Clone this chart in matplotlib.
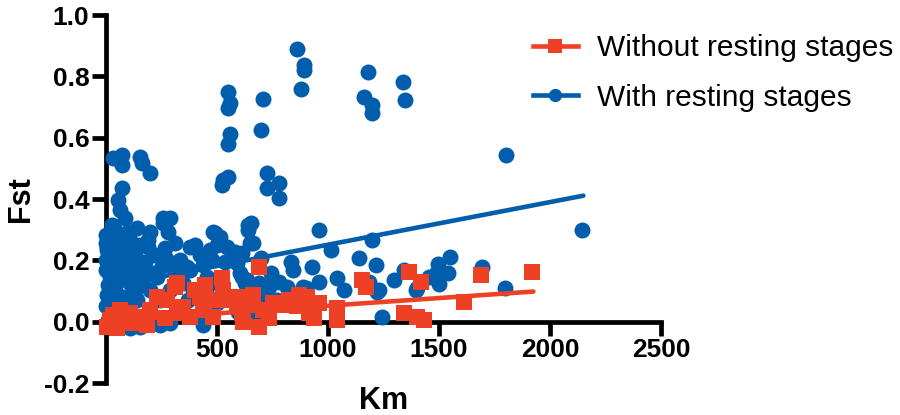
import numpy as np
import matplotlib
matplotlib.use("Agg")
import matplotlib.pyplot as plt

# Daten: (Km, Fst)
with_rs = np.array([
    # Ausreisser oben
    (862, 0.889), (894, 0.837), (894, 0.821), (876, 0.759), (548, 0.749),
    (557, 0.713), (548, 0.697), (705, 0.726), (696, 0.625), (557, 0.612),
    (548, 0.580), (1181, 0.814), (1163, 0.733), (1199, 0.707), (1199, 0.681),
    (1338, 0.782), (1347, 0.723), (1800, 0.544), (2146, 0.300),
    # mittlerer Bereich
    (31, 0.534), (72, 0.544), (72, 0.511), (153, 0.537), (162, 0.518),
    (198, 0.485), (525, 0.463), (548, 0.472), (521, 0.446), (727, 0.485),
    (723, 0.436), (781, 0.453), (781, 0.404), (72, 0.436), (54, 0.397),
    (63, 0.365), (85, 0.339), (256, 0.339), (256, 0.322), (139, 0.306),
    (655, 0.322), (638, 0.300), (647, 0.257), (480, 0.293), (512, 0.277),
    (961, 0.300), (1199, 0.267), (27, 0.293), (31, 0.267), (4, 0.244),
    # unterer Bereich
    (40, 0.300), (18, 0.251), (4, 0.234), (189, 0.267), (189, 0.244),
    (265, 0.241), (377, 0.244), (400, 0.251), (498, 0.251), (543, 0.244),
    (579, 0.228), (660, 0.257), (265, 0.212), (301, 0.192), (153, 0.179),
    (94, 0.169), (18, 0.147), (4, 0.088), (166, 0.147), (229, 0.147),
    (364, 0.179), (436, 0.186), (476, 0.202), (588, 0.192), (611, 0.147),
    (346, 0.127), (391, 0.104), (453, 0.114), (121, 0.104), (139, 0.072),
    (76, 0.081), (18, 0.029), (31, 0.062), (153, -0.016), (287, -0.003),
    (436, 0.007), (498, 0.062), (593, 0.033), (678, 0.029), (745, 0.160),
    (840, 0.169), (929, 0.179), (1015, 0.235), (1042, 0.143), (1140, 0.208),
    (1217, 0.186), (1230, 0.104), (1244, 0.016), (961, 0.130), (885, 0.114),
    (813, 0.114), (736, 0.114), (705, 0.081), (768, 0.072), (700, 0.208),
    (835, 0.195), (781, 0.130), (902, 0.111), (633, 0.137), (691, 0.127),
    (611, 0.225), (287, 0.339), (489, 0.290), (638, 0.316), (301, 0.179),
    (593, 0.212), (602, 0.160), (377, 0.169), (332, 0.137), (453, 0.147),
    (624, 0.127), (435, -0.010), (1073, 0.104), (1221, 0.098), (1298, 0.137),
    (1342, 0.169), (1396, 0.104), (1185, 0.130), (1549, 0.212), (1495, 0.189),
    (1491, 0.163), (1540, 0.160), (1455, 0.147), (1500, 0.124), (1401, 0.111),
    (1693, 0.179), (1796, 0.111),
    # dichter Bereich nahe 0 km
    (0, 0.200), (9, 0.185), (27, 0.218), (54, 0.195), (85, 0.234),
    (108, 0.267), (54, 0.251), (9, 0.120), (40, 0.104), (63, 0.137),
    (108, 0.127), (85, 0.055), (9, 0.007), (54, -0.010), (108, -0.020),
    (242, -0.010), (198, 0.104), (242, 0.072), (287, 0.104), (175, 0.195),
    (220, 0.218), (130, 0.218), (153, 0.251), (0, 0.169), (0, 0.283),
    (27, 0.316), (63, 0.277), (99, 0.293), (198, 0.293), (310, 0.257),
    (278, 0.293), (332, 0.202), (422, 0.218), (467, 0.234), (534, 0.195),
    (368, 0.072), (18, 0.072), (40, 0.180), (76, 0.150), (45, 0.225),
    (99, 0.200), (120, 0.160), (130, 0.085), (0, 0.050), (60, 0.040),
    (165, 0.120), (210, 0.160), (250, 0.180), (22, 0.215), (0, 0.255),
])

without_rs = np.array([
    (4, -0.016), (18, 0.007), (49, -0.020), (63, 0.039), (108, 0.029),
    (121, -0.003), (153, 0.016), (184, -0.010), (198, 0.039), (229, 0.081),
    (274, 0.072), (310, 0.114), (319, 0.049), (319, 0.127), (332, 0.029),
    (346, 0.049), (377, 0.016), (422, 0.081), (436, 0.039), (480, 0.016),
    (521, 0.143), (525, 0.104), (566, 0.081), (588, 0.055), (611, 0.029),
    (602, 0.081), (615, 0.000), (660, 0.088), (691, -0.016), (691, 0.179),
    (705, 0.039), (750, 0.062), (790, 0.055), (826, 0.072), (858, 0.052),
    (907, 0.081), (916, 0.029), (961, 0.062), (1042, 0.046), (1042, 0.007),
    (1154, 0.137), (1172, 0.114), (1342, 0.029), (1365, 0.163), (1419, 0.130),
    (1401, 0.016), (1432, 0.007), (1612, 0.065), (1688, 0.153), (1917, 0.163),
    (31, 0.023), (85, 0.000), (265, 0.013), (400, 0.104), (445, 0.120),
    (489, 0.072), (548, 0.072), (647, 0.055), (736, 0.013), (871, 0.088),
    (938, 0.013),
])

# Regressionsgeraden: Achsenabschnitt, Steigung, groesster x-Wert
fit_with = (0.112, 0.000139, 2150)
fit_without = (0.002, 0.00005, 1925)

blue = '#005EAC'
red = '#EE4024'

plt.rcParams['font.family'] = ['Liberation Sans', 'DejaVu Sans']

fig = plt.figure(figsize=(9, 4.15), dpi=100)
ax = fig.add_axes([0.1178, 0.0771, 0.6167, 0.8867])

ax.plot(with_rs[:, 0], with_rs[:, 1], 'o', color=blue, ms=11.5,
        mew=0, clip_on=False, zorder=3)
xf = np.array([0, fit_with[2]])
ax.plot(xf, fit_with[0] + fit_with[1] * xf, color=blue, lw=3.3,
        solid_capstyle='round', zorder=4)

ax.plot(without_rs[:, 0], without_rs[:, 1], 's', color=red, ms=11,
        mew=0, clip_on=False, zorder=5)
xf = np.array([0, fit_without[2]])
ax.plot(xf, fit_without[0] + fit_without[1] * xf, color=red, lw=3.3,
        solid_capstyle='round', zorder=4.5)

# Legenden-Handles (Linie + Marker)
h_red, = ax.plot([], [], color=red, lw=3.3, marker='s', ms=9.5, mew=0,
                 label='Without resting stages')
h_blue, = ax.plot([], [], color=blue, lw=3.3, marker='o', ms=9.5, mew=0,
                  label='With resting stages')

ax.set_xlim(0, 2500)
ax.set_ylim(-0.2, 1.0)
ax.set_xticks([500, 1000, 1500, 2000, 2500])
ax.set_yticks([-0.2, 0.0, 0.2, 0.4, 0.6, 0.8, 1.0])
ax.set_yticklabels(['-0.2', '0.0', '0.2', '0.4', '0.6', '0.8', '1.0'])

for s in ['top', 'right']:
    ax.spines[s].set_visible(False)
ax.spines['bottom'].set_position(('data', 0))
for s in ['left', 'bottom']:
    ax.spines[s].set_linewidth(3.4)
    ax.spines[s].set_zorder(2.5)
ax.tick_params(width=3.4, length=10, labelsize=19, pad=2)
for lab in ax.get_xticklabels() + ax.get_yticklabels():
    lab.set_fontweight('bold')

ax.set_xlabel('Km', fontsize=22, fontweight='bold')
ax.set_ylabel('Fst', fontsize=22, fontweight='bold', labelpad=6)
ax.xaxis.set_label_coords(0.5, -0.008)

ax.legend(handles=[h_red, h_blue], loc='upper left',
          bbox_to_anchor=(0.592, 0.918), bbox_transform=fig.transFigure,
          frameon=False, fontsize=21.5, borderpad=0, borderaxespad=0,
          handlelength=1.5, handletextpad=0.65, labelspacing=0.72)

fig.savefig('out.png', dpi=100)
